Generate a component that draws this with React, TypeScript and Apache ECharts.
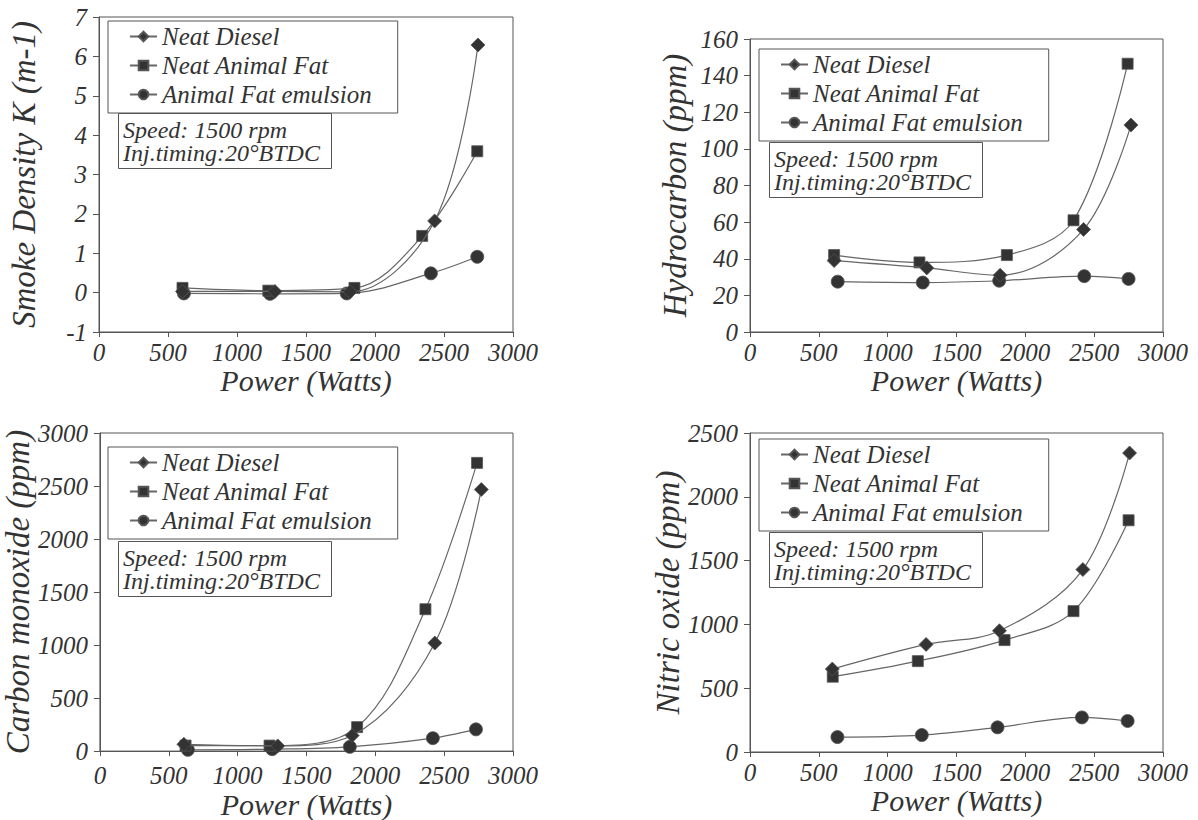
import React, { useEffect, useRef } from "react";
import * as echarts from "echarts";

// ---------- data ----------
const seriesNames = ["Neat Diesel", "Neat Animal Fat", "Animal Fat emulsion"];
const xTicks = [0, 500, 1000, 1500, 2000, 2500, 3000];

// Smoke density K (m-1)
const smokeDiesel = [[605, 0.03], [1275, 0.03], [1820, 0.02], [2432, 1.82], [2746, 6.29]];
const smokeFat = [[605, 0.12], [1227, 0.05], [1851, 0.12], [2342, 1.44], [2741, 3.59]];
const smokeEmulsion = [[615, -0.02], [1239, -0.03], [1795, -0.02], [2405, 0.49], [2741, 0.91]];

// Hydrocarbon (ppm)
const hcDiesel = [[611, 39], [1284, 35], [1817, 31], [2423, 56], [2767, 113]];
const hcFat = [[611, 42], [1231, 38], [1866, 42], [2350, 61], [2743, 146.5]];
const hcEmulsion = [[637, 27.5], [1255, 27], [1810, 28], [2428, 30.5], [2750, 29]];

// Carbon monoxide (ppm)
const coDiesel = [[610, 64], [1292, 49], [1832, 147], [2432, 1019], [2770, 2467]];
const coFat = [[622, 52], [1232, 52], [1868, 226], [2364, 1338], [2739, 2718]];
const coEmulsion = [[639, 12], [1251, 18], [1815, 40], [2418, 122], [2731, 205]];

// Nitric oxide (ppm)
const noDiesel = [[598, 650], [1279, 843], [1812, 950], [2418, 1430], [2757, 2343]];
const noFat = [[601, 590], [1219, 712], [1849, 877], [2350, 1104], [2750, 1816]];
const noEmulsion = [[635, 117], [1248, 133], [1798, 193], [2411, 271], [2743, 243]];

const panelYNames = ["Smoke Density K (m-1)", "Hydrocarbon (ppm)", "Carbon monoxide (ppm)", "Nitric oxide (ppm)"];
const panelYMin = [-1, 0, 0, 0];
const panelYMax = [7, 160, 3000, 2500];
const panelYInterval = [1, 20, 500, 500];
const panelData = [
  [smokeDiesel, smokeFat, smokeEmulsion],
  [hcDiesel, hcFat, hcEmulsion],
  [coDiesel, coFat, coEmulsion],
  [noDiesel, noFat, noEmulsion],
];
const noteText = "Speed: 1500 rpm\nInj.timing:20°BTDC";

// ---------- layout ----------
const FONT = "Times New Roman";
const TXT = "#333";
const AX = "#555";
const grids = [
  { left: 99, top: 17, width: 414, height: 315 },
  { left: 750, top: 39, width: 413, height: 293 },
  { left: 99, top: 433, width: 414, height: 326 },
  { left: 750, top: 433, width: 413, height: 319 },
];
const legendPos = [
  { left: 108, top: 21 },
  { left: 759, top: 49 },
  { left: 108, top: 447 },
  { left: 759, top: 439 },
];
const notePos = [
  { left: 118, top: 114 },
  { left: 769, top: 143 },
  { left: 118, top: 542 },
  { left: 769, top: 533 },
];
const yNameGap = [59, 59, 57, 58];
const xNameGap = [33, 33, 35, 31];
const xLabelMargin = [8, 8, 12, 8];
const symbols = ["diamond", "rect", "circle"];
const symbolSizes = [14, 11, 13];

const plain = (v: number) => String(v);

export default function App() {
  const ref = useRef<HTMLDivElement>(null);
  useEffect(() => {
    if (!ref.current) return;
    const chart = echarts.init(ref.current, undefined, { renderer: "svg" });
    const series: any[] = [];
    panelData.forEach((arrs, p) => {
      arrs.forEach((d, i) => {
        series.push({
          type: "line",
          name: seriesNames[i],
          xAxisIndex: p,
          yAxisIndex: p,
          data: d,
          smooth: 0.35,
          symbol: symbols[i],
          symbolSize: symbolSizes[i],
          lineStyle: { color: "#666", width: 1.2 },
          itemStyle: { color: "#333", borderColor: "#555", borderWidth: 0.8 },
          z: 3 - i,
        });
      });
    });
    const option: any = {
      animation: false,
      backgroundColor: "#fff",
      grid: grids.map((g) => ({ ...g, show: true, borderColor: AX, borderWidth: 1, containLabel: false })),
      xAxis: grids.map((_, p) => ({
        type: "value",
        gridIndex: p,
        min: xTicks[0],
        max: xTicks[xTicks.length - 1],
        interval: 500,
        name: "Power (Watts)",
        nameLocation: "middle",
        nameGap: xNameGap[p],
        nameTextStyle: { fontFamily: FONT, fontStyle: "italic", fontSize: 30, color: TXT },
        axisLine: { show: true, onZero: false, lineStyle: { color: AX, width: 1 } },
        axisTick: { show: true, inside: false, length: 5, lineStyle: { color: AX } },
        axisLabel: { fontFamily: FONT, fontStyle: "italic", fontSize: 25, color: TXT, margin: xLabelMargin[p], formatter: plain },
        splitLine: { show: false },
      })),
      yAxis: grids.map((_, p) => ({
        type: "value",
        gridIndex: p,
        min: panelYMin[p],
        max: panelYMax[p],
        interval: panelYInterval[p],
        name: panelYNames[p],
        nameLocation: "middle",
        nameRotate: 90,
        nameGap: yNameGap[p],
        nameTextStyle: { fontFamily: FONT, fontStyle: "italic", fontSize: 33, color: TXT },
        axisLine: { show: true, onZero: false, lineStyle: { color: AX, width: 1 } },
        axisTick: { show: true, inside: false, length: 6, lineStyle: { color: AX } },
        axisLabel: { fontFamily: FONT, fontStyle: "italic", fontSize: 25, color: TXT, margin: 12, formatter: plain },
        splitLine: { show: false },
      })),
      legend: legendPos.map((lp) => ({
        ...lp,
        orient: "vertical",
        data: seriesNames,
        itemWidth: 27,
        itemHeight: 12,
        itemGap: 4,
        padding: [3, 26, 6, 21],
        borderColor: AX,
        borderWidth: 1,
        backgroundColor: "#fff",
        selectedMode: false,
        textStyle: { fontFamily: FONT, fontStyle: "italic", fontSize: 25, color: TXT, lineHeight: 24 },
      })),
      title: notePos.map((np) => ({
        ...np,
        text: noteText,
        padding: [4, 12, 4, 5],
        borderColor: AX,
        borderWidth: 1,
        textStyle: { fontFamily: FONT, fontStyle: "italic", fontWeight: "normal", fontSize: 24, color: TXT, lineHeight: 23 },
      })),
      series,
    };
    chart.setOption(option);
    return () => chart.dispose();
  }, []);
  return (
    <div
      ref={ref}
      style={{ position: "absolute", left: 0, top: 0, width: 1198, height: 820, background: "#fff" }}
    />
  );
}
